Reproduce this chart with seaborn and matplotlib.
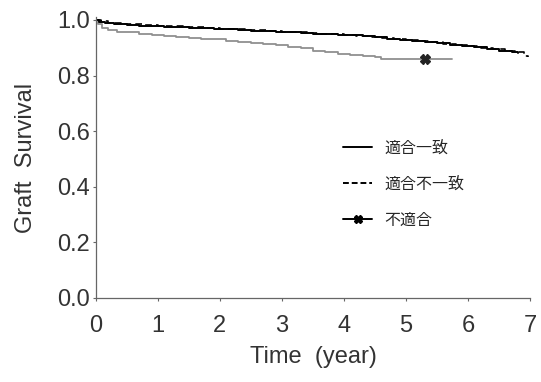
import matplotlib
matplotlib.use('Agg')
import matplotlib.pyplot as plt
from matplotlib.lines import Line2D
import seaborn as sns

# step-function survival estimates
t_match = [0, 0.05, 0.15, 0.3, 0.5, 0.7, 0.9, 1.1, 1.3, 1.5, 1.7, 1.9, 2.1, 2.3, 2.5, 2.7, 2.9,
           3.1, 3.3, 3.5, 3.7, 3.9, 4.1, 4.3, 4.5, 4.7, 4.9, 5.1, 5.3, 5.5, 5.7, 5.9, 6.1, 6.3,
           6.5, 6.7, 6.8]
s_match = [1.0, 0.993, 0.988, 0.985, 0.982, 0.980, 0.978, 0.976, 0.974, 0.972, 0.970, 0.968,
           0.966, 0.964, 0.962, 0.960, 0.958, 0.956, 0.953, 0.951, 0.949, 0.947, 0.945, 0.941,
           0.937, 0.933, 0.929, 0.925, 0.921, 0.917, 0.911, 0.906, 0.901, 0.896, 0.890, 0.884,
           0.882]

t_mismatch = [0, 0.08, 0.2, 0.4, 0.6, 0.8, 1.0, 1.2, 1.4, 1.6, 1.8, 2.0, 2.2, 2.4, 2.6, 2.8, 3.0,
              3.2, 3.4, 3.6, 3.8, 4.0, 4.2, 4.4, 4.6, 4.8, 5.0, 5.2, 5.4, 5.6, 5.8, 6.0, 6.2, 6.4,
              6.6, 6.75, 6.9, 6.97]
s_mismatch = [1.0, 0.995, 0.99, 0.987, 0.984, 0.981, 0.979, 0.977, 0.975, 0.973, 0.971, 0.969,
              0.967, 0.965, 0.963, 0.961, 0.958, 0.956, 0.954, 0.951, 0.949, 0.947, 0.944, 0.940,
              0.936, 0.932, 0.928, 0.924, 0.920, 0.915, 0.910, 0.905, 0.900, 0.895, 0.889, 0.884,
              0.870, 0.866]

t_unfit = [0, 0.03, 0.1, 0.2, 0.35, 0.5, 0.7, 0.9, 1.1, 1.3, 1.5, 1.7, 1.9, 2.1, 2.3, 2.5, 2.7,
           2.9, 3.1, 3.3, 3.5, 3.7, 3.9, 4.1, 4.3, 4.5, 4.6, 5.74]
s_unfit = [1.0, 0.985, 0.972, 0.965, 0.958, 0.955, 0.951, 0.947, 0.943, 0.940, 0.936, 0.933,
           0.930, 0.926, 0.922, 0.918, 0.914, 0.909, 0.904, 0.899, 0.888, 0.884, 0.879, 0.875,
           0.870, 0.865, 0.860, 0.860]
t_censor = [5.3]
s_censor = [0.860]

labels = ['適合一致', '適合不一致', '不適合']

sns.set_style('ticks')
plt.rcParams['font.family'] = ['Liberation Sans', 'Noto Sans CJK JP', 'DejaVu Sans']

fig = plt.figure(figsize=(5.41, 3.82), dpi=100)
ax = fig.add_axes([0.177, 0.22, 0.803, 0.735])

sns.lineplot(x=t_unfit, y=s_unfit, ax=ax, color='#909090', lw=1.3, drawstyle='steps-post')
sns.lineplot(x=t_match, y=s_match, ax=ax, color='black', lw=1.4, drawstyle='steps-post')
sns.lineplot(x=t_mismatch, y=s_mismatch, ax=ax, color='black', lw=1.2, ls=(0, (4, 2.5)),
             drawstyle='steps-post')
ax.plot(t_censor, s_censor, marker='X', color='#222222', ms=7, ls='none')

handles = [
    Line2D([], [], color='black', lw=1.4),
    Line2D([], [], color='black', lw=1.4, ls=(0, (3, 1.5))),
    Line2D([], [], color='black', lw=1.4, marker='X', ms=6),
]
ax.legend(handles, labels, loc='center left', bbox_to_anchor=(0.537, 0.405),
          frameon=False, handlelength=1.8, handletextpad=0.75, labelspacing=1.2,
          prop={'family': ['Noto Sans CJK JP'], 'size': 11.5})

ax.set_xlim(0, 7)
ax.set_ylim(0, 1.01)
ax.set_xticks(range(0, 8))
ax.set_yticks([0.0, 0.2, 0.4, 0.6, 0.8, 1.0])
ax.set_yticklabels(['0.0', '0.2', '0.4', '0.6', '0.8', '1.0'])
ax.tick_params(labelsize=17, length=2.5, width=0.8, colors='#666666', labelcolor='#333333')
ax.tick_params(axis='x', pad=10)
ax.tick_params(axis='y', pad=2)
ax.set_xlabel('Time  (year)', fontsize=17, color='#333333', labelpad=6)
ax.set_ylabel('Graft  Survival', fontsize=17, color='#333333', labelpad=14)
for s in ['left', 'bottom']:
    ax.spines[s].set_color('#666666')
    ax.spines[s].set_linewidth(0.9)
sns.despine(ax=ax)

fig.savefig('out.png', dpi=100)
